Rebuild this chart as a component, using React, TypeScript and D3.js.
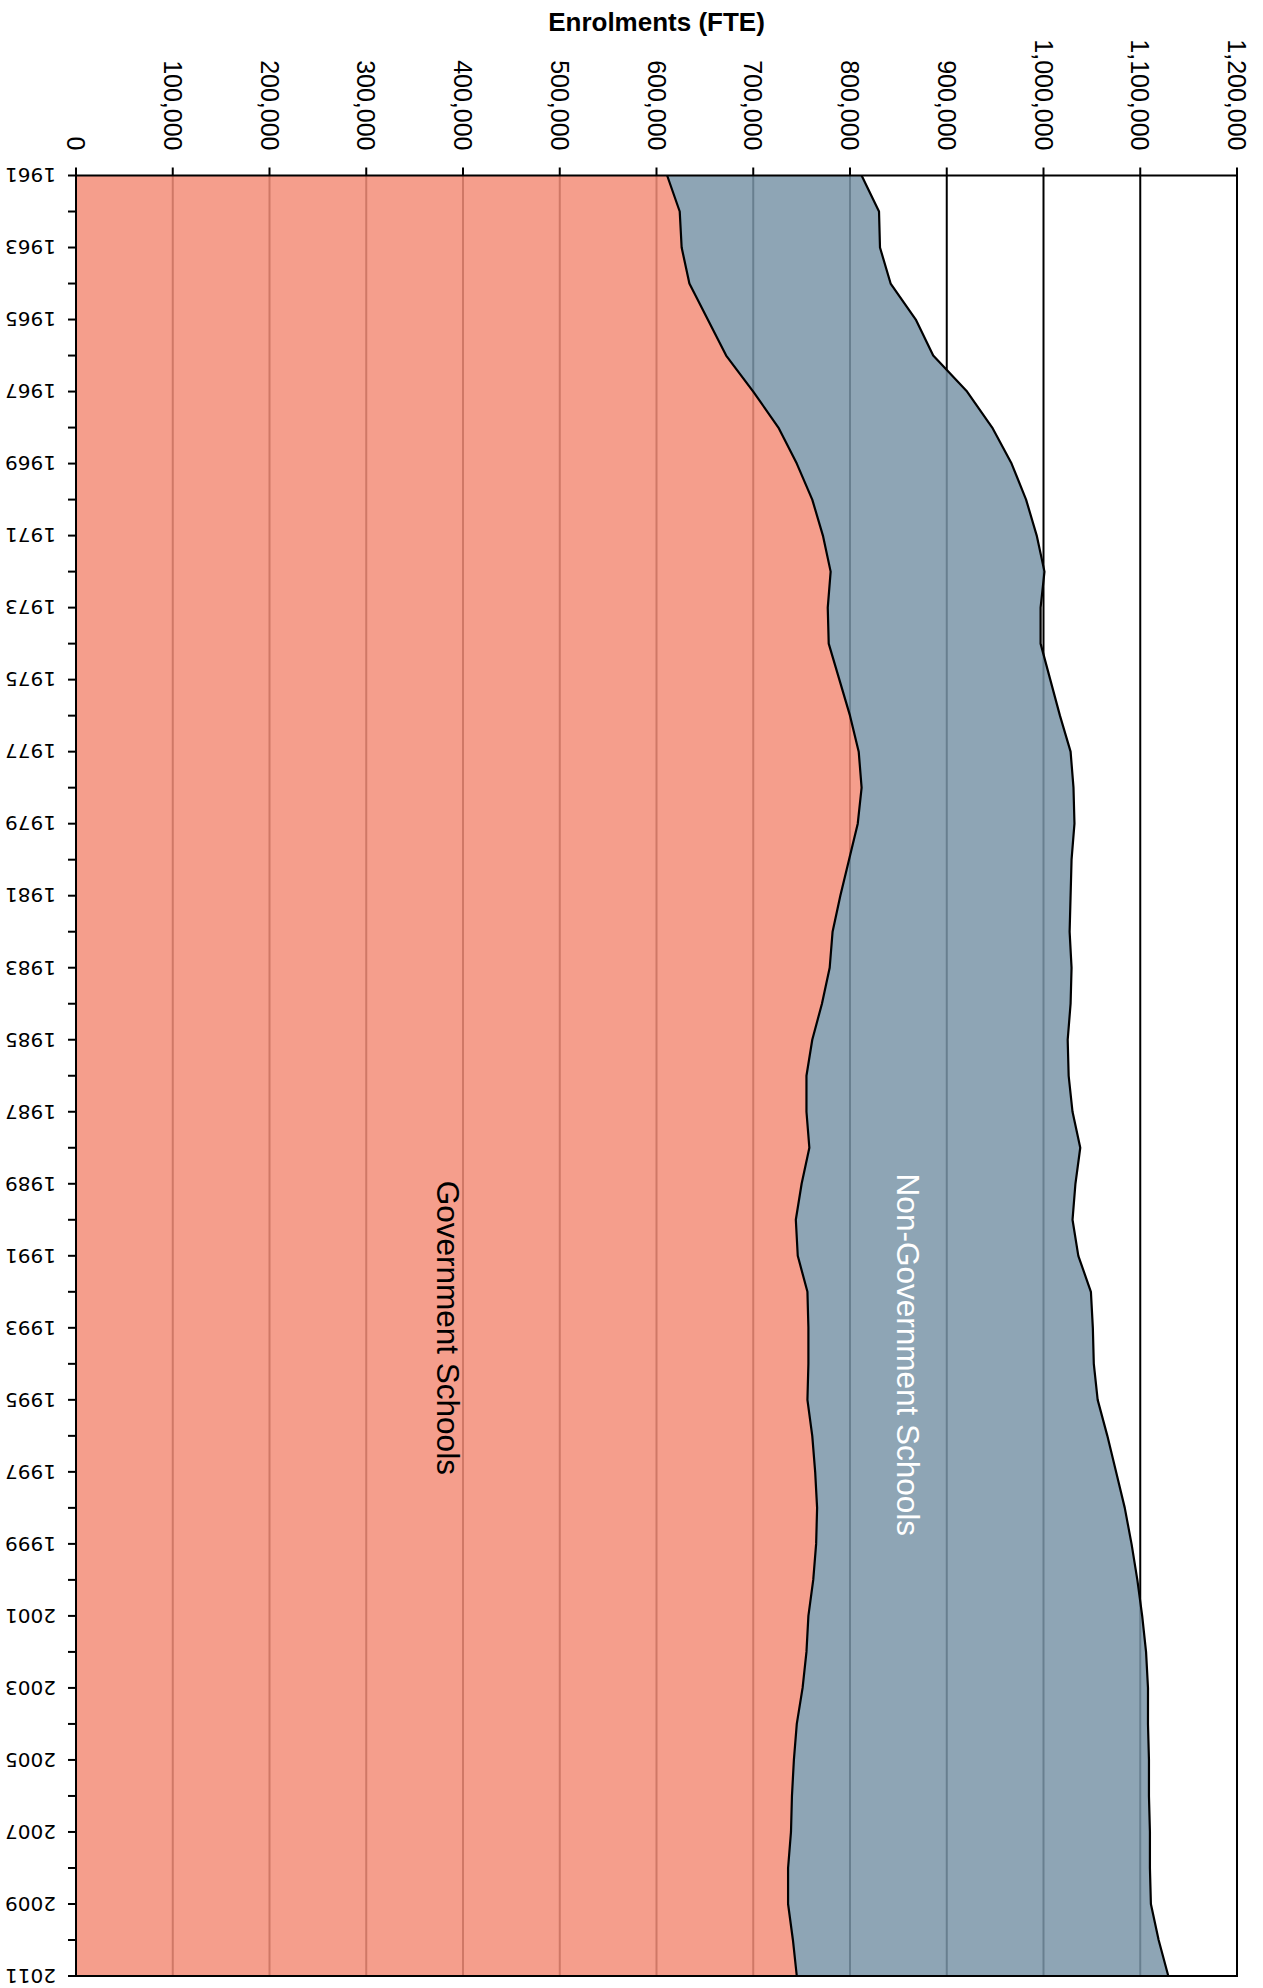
import React, { useEffect, useRef } from 'react';
import * as d3 from 'd3';

// School enrolments (FTE), 1961-2011
const years = [
  1961, 1962, 1963, 1964, 1965, 1966, 1967, 1968, 1969, 1970,
  1971, 1972, 1973, 1974, 1975, 1976, 1977, 1978, 1979, 1980,
  1981, 1982, 1983, 1984, 1985, 1986, 1987, 1988, 1989, 1990,
  1991, 1992, 1993, 1994, 1995, 1996, 1997, 1998, 1999, 2000,
  2001, 2002, 2003, 2004, 2005, 2006, 2007, 2008, 2009, 2010, 2011
];

const government = [
  611000, 624000, 626000, 634000, 653000, 672000, 700000, 726000, 745000, 761000,
  772000, 780000, 777000, 778000, 789000, 800000, 809000, 812000, 808000, 799000,
  790000, 782000, 779000, 771000, 761000, 755000, 755000, 758000, 750000, 744000,
  746000, 756000, 757000, 757000, 756000, 761000, 764000, 766000, 765000, 762000,
  757000, 755000, 751000, 745000, 742000, 740000, 739000, 736000, 736000, 741000, 745000
];

const nonGovernment = [
  201000, 206000, 205000, 208000, 215000, 214000, 221000, 221000, 222000, 221000,
  221000, 221000, 220000, 219000, 218000, 217000, 219000, 219000, 224000, 230000,
  238000, 245000, 250000, 257000, 264000, 271000, 275000, 280000, 283000, 286000,
  290000, 293000, 294000, 295000, 300000, 305000, 311000, 318000, 326000, 335000,
  345000, 351000, 357000, 363000, 367000, 369000, 371000, 374000, 375000, 378000, 384000
];

const valueTicks = [0, 100000, 200000, 300000, 400000, 500000, 600000, 700000, 800000, 900000, 1000000, 1100000, 1200000];
const seriesKeys = ['gov', 'nonGov'];
const seriesNames = ['Government Schools', 'Non-Government Schools'];
const seriesColors = ['#f38d78', '#7a95a8'];

const App: React.FC = () => {
  const svgRef = useRef<SVGSVGElement>(null);

  useEffect(() => {
    if (!svgRef.current) return;
    const svg = d3.select(svgRef.current);
    svg.selectAll('*').remove();

    const left = 76, right = 1237, top = 175.5, bottom = 1976;

    const x = d3.scaleLinear().domain([0, 1200000]).range([left, right]);
    const y = d3.scaleLinear().domain([1961, 2011]).range([top, bottom]);

    const rows = years.map((yr, i) => ({ year: yr, gov: government[i], nonGov: nonGovernment[i] }));
    const stacked = d3.stack<any>().keys(seriesKeys)(rows);

    // gridlines (sit under the translucent areas)
    svg.append('g')
      .selectAll('line')
      .data(valueTicks.slice(1))
      .enter()
      .append('line')
      .attr('x1', d => x(d))
      .attr('x2', d => x(d))
      .attr('y1', top)
      .attr('y2', bottom)
      .attr('stroke', '#000')
      .attr('stroke-width', 2);

    const area = d3.area<any>()
      .y(d => y(d.data.year))
      .x0(d => x(d[0]))
      .x1(d => x(d[1]));

    svg.append('g')
      .selectAll('path')
      .data(stacked)
      .enter()
      .append('path')
      .attr('d', area)
      .attr('fill', (d, i) => seriesColors[i])
      .attr('fill-opacity', 0.85);

    const line = d3.line<any>()
      .y(d => y(d.data.year))
      .x(d => x(d[1]));

    svg.append('g')
      .selectAll('path')
      .data(stacked)
      .enter()
      .append('path')
      .attr('d', line)
      .attr('fill', 'none')
      .attr('stroke', '#000')
      .attr('stroke-width', 2.2)
      .attr('stroke-linejoin', 'round');

    // top axis
    const topAxis = svg.append('g');
    topAxis.append('line')
      .attr('x1', left - 1).attr('x2', right + 1)
      .attr('y1', top).attr('y2', top)
      .attr('stroke', '#000').attr('stroke-width', 2);
    topAxis.selectAll('line.tick')
      .data(valueTicks)
      .enter()
      .append('line')
      .attr('class', 'tick')
      .attr('x1', d => x(d)).attr('x2', d => x(d))
      .attr('y1', top - 8).attr('y2', top)
      .attr('stroke', '#000').attr('stroke-width', 2);
    topAxis.selectAll('text')
      .data(valueTicks)
      .enter()
      .append('text')
      .attr('transform', d => `translate(${x(d)},${top - 25}) rotate(90)`)
      .attr('text-anchor', 'end')
      .attr('dy', '0.36em')
      .attr('font-family', '"Liberation Sans", Arial, sans-serif')
      .attr('font-size', 25)
      .attr('fill', '#000')
      .text(d => d3.format(',')(d));

    svg.append('text')
      .attr('x', (left + right) / 2)
      .attr('y', 31)
      .attr('text-anchor', 'middle')
      .attr('font-family', '"Liberation Sans", Arial, sans-serif')
      .attr('font-size', 26)
      .attr('font-weight', 'bold')
      .attr('fill', '#000')
      .text('Enrolments (FTE)');

    // left axis (years)
    const leftAxis = svg.append('g');
    leftAxis.append('line')
      .attr('x1', left).attr('x2', left)
      .attr('y1', top - 1).attr('y2', bottom + 1)
      .attr('stroke', '#000').attr('stroke-width', 2);
    leftAxis.append('line')
      .attr('x1', left).attr('x2', right + 1)
      .attr('y1', bottom).attr('y2', bottom)
      .attr('stroke', '#000').attr('stroke-width', 2);
    leftAxis.selectAll('line.tick')
      .data(years)
      .enter()
      .append('line')
      .attr('class', 'tick')
      .attr('x1', left - 8).attr('x2', left)
      .attr('y1', d => y(d)).attr('y2', d => y(d))
      .attr('stroke', '#000').attr('stroke-width', 2);
    leftAxis.selectAll('text')
      .data(years.filter((d, i) => i % 2 === 0))
      .enter()
      .append('text')
      .attr('transform', d => `translate(${left - 20},${y(d)}) rotate(180)`)
      .attr('text-anchor', 'start')
      .attr('dy', '0.36em')
      .attr('font-family', '"DejaVu Sans", sans-serif')
      .attr('font-size', 20)
      .attr('fill', '#000')
      .text(d => d);

    // series labels
    svg.append('text')
      .attr('transform', `translate(${x(385000)},${y(1993)}) rotate(90)`)
      .attr('text-anchor', 'middle')
      .attr('dy', '0.36em')
      .attr('font-family', '"Liberation Sans", Arial, sans-serif')
      .attr('font-size', 31.5)
      .attr('fill', '#000')
      .text(seriesNames[0]);

    svg.append('text')
      .attr('transform', `translate(${x(860000)},${y(1993.75)}) rotate(90)`)
      .attr('text-anchor', 'middle')
      .attr('dy', '0.36em')
      .attr('font-family', '"Liberation Sans", Arial, sans-serif')
      .attr('font-size', 31.5)
      .attr('fill', '#fff')
      .text(seriesNames[1]);
  }, []);

  return (
    <svg
      ref={svgRef}
      width={1263}
      height={1988}
      style={{ position: 'absolute', left: 0, top: 0, background: '#fff' }}
    />
  );
};

export default App;
